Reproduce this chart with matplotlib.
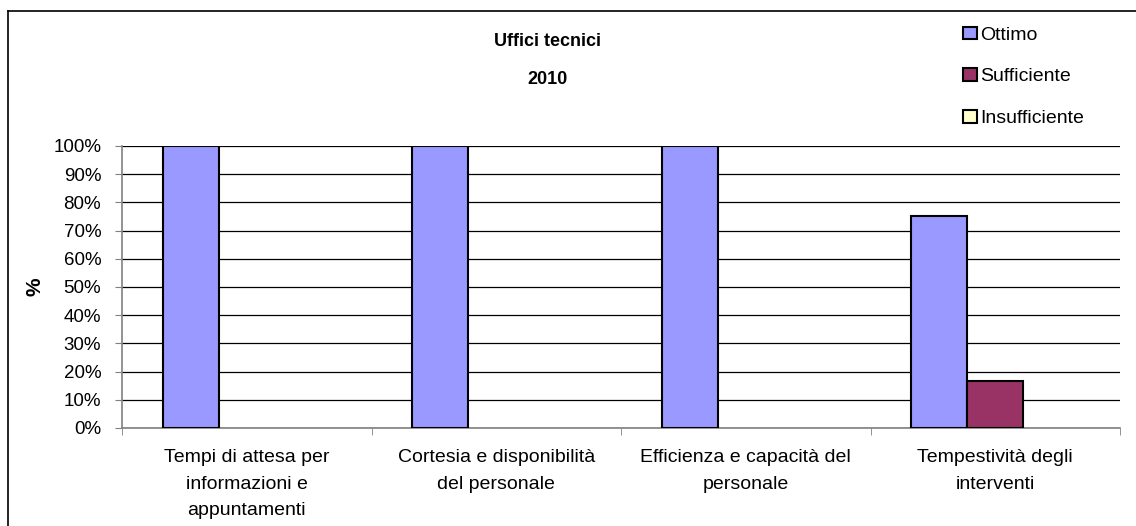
import matplotlib
matplotlib.use("Agg")
import matplotlib.pyplot as plt
from matplotlib.lines import Line2D
from matplotlib.patches import Patch
import numpy as np

plt.rcParams['font.family'] = ['Liberation Sans', 'DejaVu Sans']

categories = ["Tempi di attesa per\ninformazioni e\nappuntamenti",
              "Cortesia e disponibilità\ndel personale",
              "Efficienza e capacità del\npersonale",
              "Tempestività degli\ninterventi"]
series_names = ["Ottimo", "Sufficiente", "Insufficiente"]
ottimo = [100, 100, 100, 75]
sufficiente = [0, 0, 0, 16.7]
insufficiente = [0, 0, 0, 0]
colors = ["#9999FF", "#993366", "#FFFFCC"]
yticks = [0, 10, 20, 30, 40, 50, 60, 70, 80, 90, 100]

fig = plt.figure(figsize=(11.36, 5.26), dpi=100)
ax = fig.add_axes([122/1136, 1-428/526, 998/1136, 282/526])

x = np.arange(len(categories))
w = 0.224
for i, (vals, c) in enumerate(zip([ottimo, sufficiente, insufficiente], colors)):
    vals_arr = np.array(vals, dtype=float)
    mask = vals_arr > 0
    if mask.any():
        ax.bar(x[mask] + (i - 1) * w, vals_arr[mask], width=w, color=c,
               edgecolor='black', linewidth=1.5, zorder=3)

ax.set_xlim(-0.5, len(categories) - 0.5)
ax.set_ylim(0, 100)
ax.set_yticks(yticks)
ax.set_yticklabels([f"{v}%" for v in yticks], fontsize=13.5)
ax.yaxis.grid(True, color='black', linewidth=0.9, zorder=0)
ax.set_axisbelow(True)
ax.set_xticks(x)
ax.set_xticklabels(categories, fontsize=14, linespacing=1.75)
ax.tick_params(axis='x', length=0, pad=15)
ax.set_xticks(np.arange(-0.5, len(categories)), minor=True)
ax.tick_params(axis='x', which='minor', length=5, color='#808080', direction='out')
ax.tick_params(axis='y', length=5, color='#808080', direction='out', pad=10)
for s in ['top', 'right']:
    ax.spines[s].set_visible(False)
for s in ['left', 'bottom']:
    ax.spines[s].set_color('#808080')
    ax.spines[s].set_linewidth(1.2)

ax.set_ylabel('%', fontsize=15, fontweight='bold', labelpad=6)

fig.text(548/1136, 1-41/526, "Uffici tecnici", ha='center', va='center', fontsize=13, fontweight='bold')
fig.text(548/1136, 1-80/526, "2010", ha='center', va='center', fontsize=13, fontweight='bold')

handles = [Patch(facecolor=c, edgecolor='black', linewidth=1.5) for c in colors]
leg = fig.legend(handles, series_names, loc='upper left', bbox_to_anchor=(945/1136, 1-9/526), frameon=False,
                 fontsize=14, handlelength=0.75, handleheight=0.65, handletextpad=0.15,
                 labelspacing=1.25)

# outer frame (left and top visible)
fig.add_artist(Line2D([8/1136, 8/1136], [0, 1-11/526], transform=fig.transFigure, color='black', lw=1.2))
fig.add_artist(Line2D([8/1136, 1], [1-11/526, 1-11/526], transform=fig.transFigure, color='black', lw=1.2))

fig.savefig("out.png", dpi=100)
